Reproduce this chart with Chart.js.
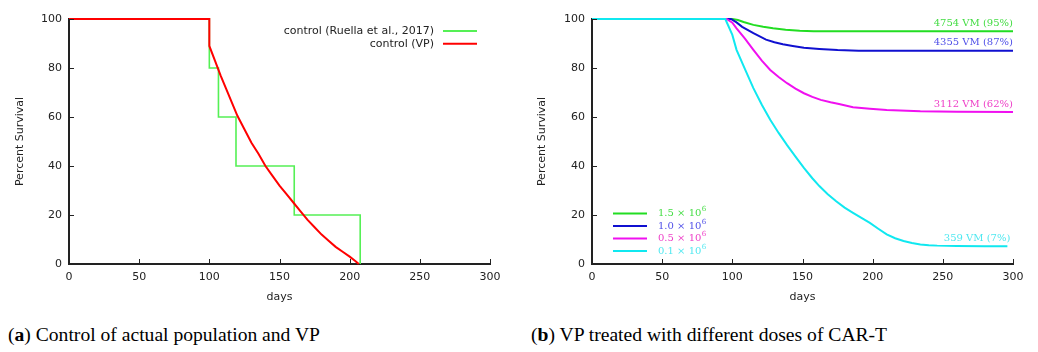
<!DOCTYPE html>
<html>
<head>
<meta charset="utf-8">
<script src="https://cdn.jsdelivr.net/npm/chart.js@4"></script>
<style>
  body { margin: 0; background: #fff; width: 1038px; height: 352px; position: relative; overflow: hidden; }
  .box { position: absolute; top: 0; height: 305px; }
  #boxA { left: 0; width: 519px; }
  #boxB { left: 520px; width: 518px; }
  .cap { position: absolute; top: 324px; font-family: "Liberation Serif", serif; font-size: 19.6px; color: #000; white-space: nowrap; }
</style>
</head>
<body>
<div class="box" id="boxA"><canvas id="chartA"></canvas></div>
<div class="box" id="boxB"><canvas id="chartB"></canvas></div>
<div class="cap" style="left:8px">(<b>a</b>) Control of actual population and VP</div>
<div class="cap" style="left:531px">(<b>b</b>) VP treated with different doses of CAR-T</div>
<script>
// (a) control
const ruellaDays = [0, 100, 106.5, 119, 160.5, 207.5];
const ruellaSurvival = [100, 80, 60, 40, 20, 0];
const vpDays = [0, 100, 100, 104, 108, 112, 116, 120, 125, 130, 135, 140, 145, 150, 155, 160, 165, 170, 175, 180, 185, 190, 195, 200, 204, 206.5];
const vpSurvival = [100, 100, 89, 83, 77, 71.5, 66, 60.5, 55, 49.5, 45, 40, 36, 32, 28.5, 25, 21.5, 18, 15, 12, 9.5, 7, 5, 3, 1.2, 0];

// (b) doses
const doseLabels = ['1.5', '1.0', '0.5', '0.1'];
const vmLabels = ['4754 VM (95%)', '4355 VM (87%)', '3112 VM (62%)', '359 VM (7%)'];
const dose15Days = [0, 100, 104, 108, 115, 122, 129, 138, 148, 158, 170, 300];
const dose15Survival = [100, 100, 99.6, 98.8, 97.6, 96.8, 96.2, 95.6, 95.2, 95, 95, 95];
const dose10Days = [0, 99, 103, 107, 115, 124, 130, 136, 143, 151, 162, 175, 190, 300];
const dose10Survival = [100, 100, 98.6, 96.8, 94.2, 91.6, 90.5, 89.7, 89, 88.3, 87.8, 87.3, 87, 87];
const dose05Days = [0, 96, 100, 103, 109, 115, 121, 127, 133, 139, 145, 151, 157, 163, 170, 176, 186, 198, 210, 234, 260, 300];
const dose05Survival = [100, 100, 98.5, 96.2, 92, 87.4, 83, 79.2, 76.3, 73.8, 71.6, 69.7, 68.2, 67, 66, 65.3, 64, 63.4, 62.9, 62.3, 62.1, 62];
const dose01Days = [0, 95, 100, 103, 109, 115, 121, 127, 133, 139, 145, 151, 157, 162, 168, 174, 180, 186, 192, 198, 204, 210, 216, 222, 228, 234, 240, 246, 260, 280, 296];
const dose01Survival = [100, 100, 93.5, 87.4, 79.5, 71.8, 65, 58.9, 53.5, 48.5, 43.8, 39.2, 35, 31.8, 28.5, 25.6, 23, 20.9, 18.8, 16.8, 14.4, 12.1, 10.5, 9.4, 8.6, 8, 7.7, 7.5, 7.3, 7.2, 7.2];

const xTicks = [0, 50, 100, 150, 200, 250, 300];
const yTicks = [0, 20, 40, 60, 80, 100];

const pts = (xs, ys) => xs.map((v, i) => ({x: v, y: ys[i]}));
const sans = 'DejaVu Sans';
const serif = 'DejaVu Serif';
const ink = '#222';

const decorations = {
  id: 'decorations',
  afterDatasetsDraw(chart, args, opts) {
    const {ctx, chartArea: a, scales: {x, y}} = chart;
    ctx.save();
    // inward tick marks, gnuplot style
    ctx.strokeStyle = ink;
    ctx.lineWidth = 1;
    ctx.beginPath();
    x.ticks.forEach(t => {
      const px = Math.round(x.getPixelForValue(t.value)) + 0.5;
      ctx.moveTo(px, a.bottom); ctx.lineTo(px, a.bottom - 5);
    });
    y.ticks.forEach(t => {
      const py = Math.round(y.getPixelForValue(t.value)) + 0.5;
      ctx.moveTo(a.left, py); ctx.lineTo(a.left + 5, py);
    });
    ctx.stroke();

    const ds = chart.data.datasets;
    if (opts.kind === 'a') {
      ctx.font = '11px "' + sans + '"';
      ctx.textAlign = 'right';
      ctx.textBaseline = 'middle';
      opts.order.forEach((di, i) => {
        const d = ds[di];
        const ty = a.top + 12 + i * 12.7;
        ctx.fillStyle = ink;
        ctx.fillText(d.label, a.right - 56, ty);
        ctx.strokeStyle = d.borderColor;
        ctx.lineWidth = 2;
        ctx.beginPath(); ctx.moveTo(a.right - 47, ty); ctx.lineTo(a.right - 13, ty); ctx.stroke();
      });
    } else {
      ctx.textBaseline = 'middle';
      ds.forEach((d, i) => {
        const ty = a.bottom - 50.5 + i * 12.5;
        ctx.strokeStyle = d.borderColor;
        ctx.lineWidth = 2;
        ctx.beginPath(); ctx.moveTo(a.left + 21, ty); ctx.lineTo(a.left + 55, ty); ctx.stroke();
        ctx.fillStyle = d.textColor;
        ctx.textAlign = 'left';
        ctx.font = '10px "' + serif + '"';
        const base = doseLabels[i] + ' \u00d7 10';
        ctx.fillText(base, a.left + 66, ty);
        const w = ctx.measureText(base).width;
        ctx.font = '7px "' + serif + '"';
        ctx.fillText('6', a.left + 66 + w + 0.5, ty - 4);
        // end-of-curve annotation
        const last = d.data[d.data.length - 1];
        const rx = Math.min(x.getPixelForValue(last.x) + 3, a.right);
        ctx.font = '10px "' + serif + '"';
        ctx.textAlign = 'right';
        ctx.fillText(vmLabels[i], rx, y.getPixelForValue(last.y) - 8);
      });
    }
    ctx.restore();
  }
};

function axes(yWidth, yTitlePad) {
  const tickFont = {family: sans, size: 11};
  return {
    x: {
      type: 'linear', min: 0, max: 300,
      afterBuildTicks: s => { s.ticks = xTicks.map(v => ({value: v})); },
      afterFit: s => { s.height = 41; },
      grid: {display: false, drawTicks: false, tickLength: 0},
      border: {display: true, color: ink, width: 2},
      ticks: {color: ink, font: tickFont, padding: 7, maxRotation: 0, autoSkip: false},
      title: {display: true, text: 'days', color: ink, font: tickFont, padding: {top: 0, bottom: 1.4}}
    },
    y: {
      type: 'linear', min: 0, max: 100,
      afterBuildTicks: s => { s.ticks = yTicks.map(v => ({value: v})); },
      afterFit: s => { s.width = yWidth; },
      grid: {display: false, drawTicks: false, tickLength: 0},
      border: {display: true, color: ink, width: 2},
      ticks: {color: ink, font: tickFont, padding: 7, autoSkip: false},
      title: {display: true, text: 'Percent Survival', color: ink, font: tickFont, padding: {top: yTitlePad, bottom: 0}}
    }
  };
}

const lineDefaults = {showLine: true, pointRadius: 0, fill: false, tension: 0, clip: 4};

new Chart(document.getElementById('chartA'), {
  type: 'scatter',
  data: {
    datasets: [
      {...lineDefaults, label: 'control (VP)', data: pts(vpDays, vpSurvival), borderColor: '#ff0000', borderWidth: 2},
      {...lineDefaults, label: 'control (Ruella et al., 2017)', data: pts(ruellaDays, ruellaSurvival), borderColor: '#55f055', borderWidth: 1.6, stepped: 'before'}
    ]
  },
  options: {
    responsive: true,
    maintainAspectRatio: false,
    animation: false,
    layout: {padding: {left: 0, right: 29, top: 19, bottom: 0}},
    scales: axes(69, 13.4),
    plugins: {legend: {display: false}, tooltip: {enabled: false}, decorations: {kind: 'a', order: [1, 0]}}
  },
  plugins: [decorations]
});

new Chart(document.getElementById('chartB'), {
  type: 'scatter',
  data: {
    datasets: [
      {...lineDefaults, label: '1.5', data: pts(dose15Days, dose15Survival), borderColor: '#22dd22', textColor: '#44dd44', borderWidth: 2, order: 4},
      {...lineDefaults, label: '1.0', data: pts(dose10Days, dose10Survival), borderColor: '#1010d0', textColor: '#5050e8', borderWidth: 2, order: 3},
      {...lineDefaults, label: '0.5', data: pts(dose05Days, dose05Survival), borderColor: '#f010f0', textColor: '#ee40c8', borderWidth: 2, order: 2},
      {...lineDefaults, label: '0.1', data: pts(dose01Days, dose01Survival), borderColor: '#10e8f0', textColor: '#50e8f0', borderWidth: 2, order: 1}
    ]
  },
  options: {
    responsive: true,
    maintainAspectRatio: false,
    animation: false,
    layout: {padding: {left: 0, right: 25, top: 19, bottom: 0}},
    scales: axes(72, 15.7),
    plugins: {legend: {display: false}, tooltip: {enabled: false}, decorations: {kind: 'b'}}
  },
  plugins: [decorations]
});
</script>
</body>
</html>
